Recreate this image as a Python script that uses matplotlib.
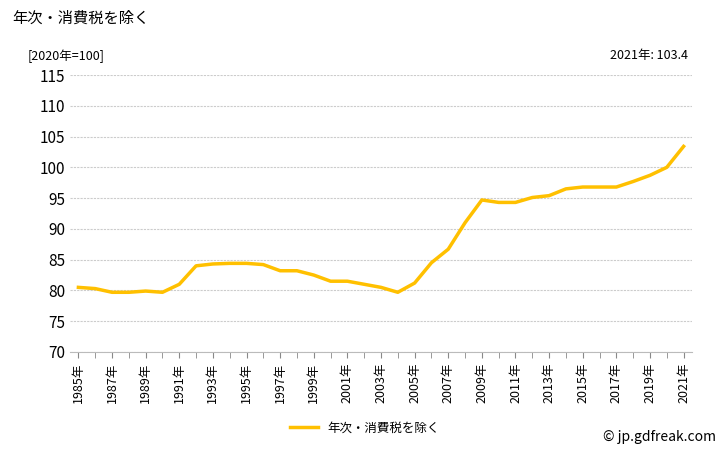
import matplotlib
matplotlib.use("Agg")
import matplotlib.pyplot as plt

plt.rcParams['font.family'] = ['Noto Sans CJK JP', 'DejaVu Sans']

years = list(range(1985, 2022))
values = [80.5, 80.3, 79.7, 79.7, 79.9, 79.7, 81.0, 84.0, 84.3, 84.4, 84.4, 84.2,
          83.2, 83.2, 82.5, 81.5, 81.5, 81.0, 80.5, 79.7, 81.2, 84.5, 86.7, 91.0,
          94.7, 94.3, 94.3, 95.1, 95.4, 96.5, 96.8, 96.8, 96.8, 97.7, 98.7, 100.0, 103.4]
tick_years = list(range(1985, 2022, 2))
tick_labels = [f"{y}年" for y in tick_years]

fig = plt.figure(figsize=(7.28, 4.5), dpi=100)
ax = fig.add_axes([70/728, 1-352/450, 622/728, 277/450])
ax.plot(years, values, color='#FFC000', lw=2.5, label='年次・消費税を除く')
ax.set_xlim(1984.5, 2021.5)
ax.set_ylim(70, 115)
ax.set_yticks(range(70, 116, 5))
ax.set_xticks(tick_years)
ax.set_xticklabels(tick_labels, rotation=90, fontsize=9)
ax.set_xticks(years, minor=True)
ax.tick_params(axis='x', which='both', length=4, color='#888888')
ax.tick_params(axis='y', length=0, labelsize=11)
ax.grid(axis='y', color='#CCCCCC', ls=(0, (2, 1)), lw=0.8)
for s in ['top', 'right', 'left']:
    ax.spines[s].set_visible(False)
ax.spines['bottom'].set_color('#BBBBBB')

fig.text(12/728, 1-18/450, '年次・消費税を除く', fontsize=11, va='center')
fig.text(28/728, 1-56/450, '[2020年=100]', fontsize=9, va='center')
fig.text(688/728, 1-56/450, '2021年: 103.4', fontsize=9, va='center', ha='right')
fig.text(716/728, 1-437/450, '© jp.gdfreak.com', fontsize=10, va='center', ha='right')
fig.legend(loc='center', bbox_to_anchor=(365/728, 1-428/450), frameon=False,
           fontsize=9, handlelength=2.2)
fig.savefig('out.png', dpi=100)
